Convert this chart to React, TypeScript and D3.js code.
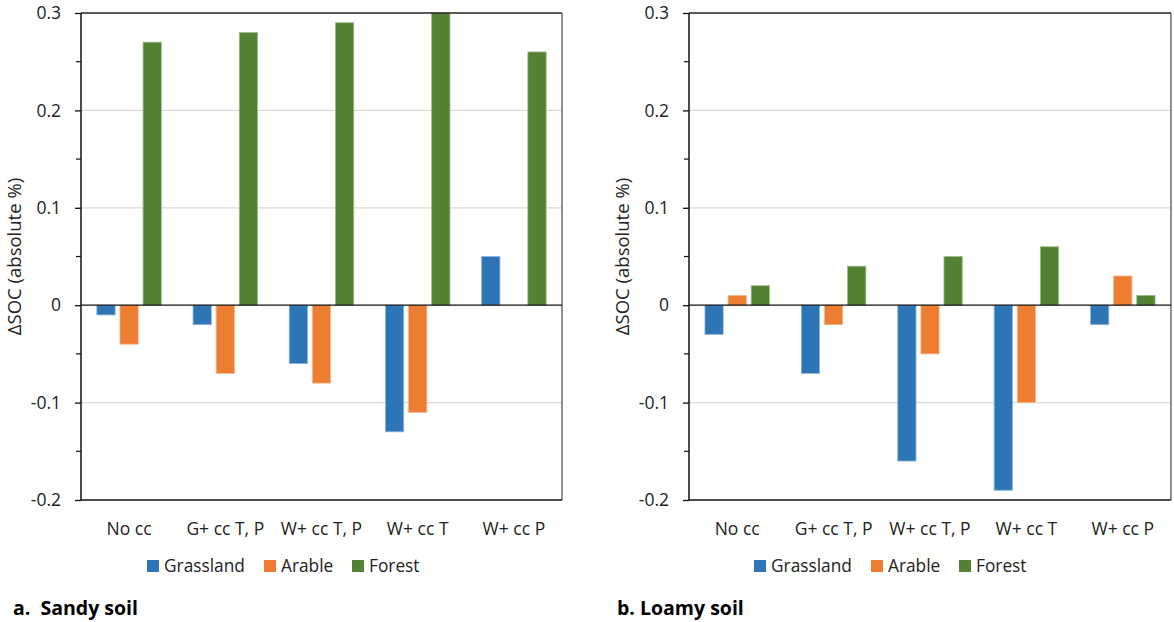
import React, { useEffect, useRef } from "react";
import * as d3 from "d3";

const categories = ["No cc", "G+ cc T, P", "W+ cc T, P", "W+ cc T", "W+ cc P"];
const seriesNames = ["Grassland", "Arable", "Forest"];
const seriesColors = ["#2e75b6", "#ed7d31", "#548235"];
const seriesStrokes = ["#8fb4da", "#f5b88f", "#9cba86"];

// sandy soil
const sandyGrassland = [-0.01, -0.02, -0.06, -0.13, 0.05];
const sandyArable = [-0.04, -0.07, -0.08, -0.11, 0];
const sandyForest = [0.27, 0.28, 0.29, 0.3, 0.26];

// loamy soil
const loamyGrassland = [-0.03, -0.07, -0.16, -0.19, -0.02];
const loamyArable = [0.01, -0.02, -0.05, -0.1, 0.03];
const loamyForest = [0.02, 0.04, 0.05, 0.06, 0.01];

const yTicks = [-0.2, -0.1, 0, 0.1, 0.2, 0.3];
const yTickLabels = ["-0.2", "-0.1", "0", "0.1", "0.2", "0.3"];

const FONT = "'Open Sans', sans-serif";

export default function App() {
  const ref = useRef<SVGSVGElement>(null);

  useEffect(() => {
    const svg = d3.select(ref.current);
    svg.selectAll("*").remove();

    const panels = [
      { x0: 81, x1: 562, data: [sandyGrassland, sandyArable, sandyForest], legendX: 147, label: "a.\u00a0 Sandy soil", labelX: 13 },
      { x0: 689, x1: 1171, data: [loamyGrassland, loamyArable, loamyForest], legendX: 754, label: "b. Loamy soil", labelX: 617 },
    ];

    const top = 13;
    const bottom = 500;

    panels.forEach((p) => {
      const g = svg.append("g");
      const y = d3.scaleLinear().domain([-0.2, 0.3]).range([bottom, top]);
      const x = d3.scaleBand().domain(categories).range([p.x0, p.x1]);
      const inner = d3.scaleBand().domain(seriesNames).range([0, 64.5]).paddingInner(0.21);
      const groupOffset = (x.bandwidth() - 64.5) / 2;

      // gridlines
      g.selectAll(".grid")
        .data(yTicks.filter((t) => t !== 0 && t !== 0.3 && t !== -0.2))
        .enter()
        .append("line")
        .attr("x1", p.x0)
        .attr("x2", p.x1)
        .attr("y1", (d) => y(d))
        .attr("y2", (d) => y(d))
        .attr("stroke", "#d9d9d9")
        .attr("stroke-width", 1.3);

      // bars
      p.data.forEach((vals, si) => {
        g.selectAll(".bar" + si)
          .data(vals.map((v, i) => ({ v, c: categories[i] })).filter((d) => d.v !== 0))
          .enter()
          .append("rect")
          .attr("x", (d) => (x(d.c) as number) + groupOffset + (inner(seriesNames[si]) as number))
          .attr("width", inner.bandwidth())
          .attr("y", (d) => Math.min(y(d.v), y(0)))
          .attr("height", (d) => Math.abs(y(d.v) - y(0)))
          .attr("fill", seriesColors[si])
          .attr("stroke", seriesStrokes[si])
          .attr("stroke-width", 0.8);
      });

      // frame
      g.append("line").attr("x1", p.x0).attr("x2", p.x1).attr("y1", top).attr("y2", top).attr("stroke", "#222").attr("stroke-width", 1.5);
      g.append("line").attr("x1", p.x1).attr("x2", p.x1).attr("y1", top).attr("y2", bottom).attr("stroke", "#555").attr("stroke-width", 1.3);
      g.append("line").attr("x1", p.x0).attr("x2", p.x1).attr("y1", bottom).attr("y2", bottom).attr("stroke", "#111").attr("stroke-width", 1.5);
      g.append("line").attr("x1", p.x0).attr("x2", p.x1).attr("y1", y(0)).attr("y2", y(0)).attr("stroke", "#111").attr("stroke-width", 1.3);

      // y axis
      const axis = d3.axisLeft(y)
        .tickValues(yTicks)
        .tickSize(6)
        .tickPadding(14)
        .tickFormat((d, i) => yTickLabels[i]);
      const ax = g.append("g").attr("transform", `translate(${p.x0},0)`).call(axis);
      ax.select(".domain").attr("stroke", "#111").attr("stroke-width", 1.5).attr("d", `M0,${top}V${bottom}`);
      ax.selectAll(".tick line").attr("stroke", "#111").attr("stroke-width", 1.3);
      ax.selectAll(".tick text").attr("font-family", FONT).attr("font-size", 17.5).attr("fill", "#222");

      // minor ticks
      g.selectAll(".minor")
        .data(d3.range(-0.15, 0.3, 0.1))
        .enter()
        .append("line")
        .attr("x1", p.x0 - 5)
        .attr("x2", p.x0)
        .attr("y1", (d) => y(d))
        .attr("y2", (d) => y(d))
        .attr("stroke", "#111")
        .attr("stroke-width", 1.2);

      // axis title
      g.append("text")
        .attr("transform", `translate(${p.x0 - 60},${(top + bottom) / 2}) rotate(-90)`)
        .attr("text-anchor", "middle")
        .attr("font-family", FONT)
        .attr("font-size", 18.5)
        .attr("fill", "#222")
        .text("ΔSOC (absolute %)");

      // category labels
      g.selectAll(".cat")
        .data(categories)
        .enter()
        .append("text")
        .attr("x", (d) => (x(d) as number) + x.bandwidth() / 2)
        .attr("y", 535)
        .attr("text-anchor", "middle")
        .attr("font-family", FONT)
        .attr("font-size", 17.5)
        .attr("fill", "#222")
        .text((d) => d);

      // legend
      const legendOffsets = [0, 117, 205];
      seriesNames.forEach((s, i) => {
        const lx = p.legendX + legendOffsets[i];
        g.append("rect").attr("x", lx).attr("y", 560).attr("width", 12).attr("height", 12).attr("fill", seriesColors[i]);
        g.append("text")
          .attr("x", lx + 17)
          .attr("y", 572)
          .attr("font-family", FONT)
          .attr("font-size", 17.3)
          .attr("fill", "#222")
          .text(s);
      });

      // panel label
      svg.append("text")
        .attr("x", p.labelX)
        .attr("y", 615)
        .attr("font-family", FONT)
        .attr("font-size", 19.5)
        .attr("font-weight", "bold")
        .attr("fill", "#000")
        .text(p.label);
    });
  }, []);

  return (
    <svg
      ref={ref}
      width={1174}
      height={622}
      style={{ position: "absolute", left: 0, top: 0, background: "#fff" }}
    />
  );
}
